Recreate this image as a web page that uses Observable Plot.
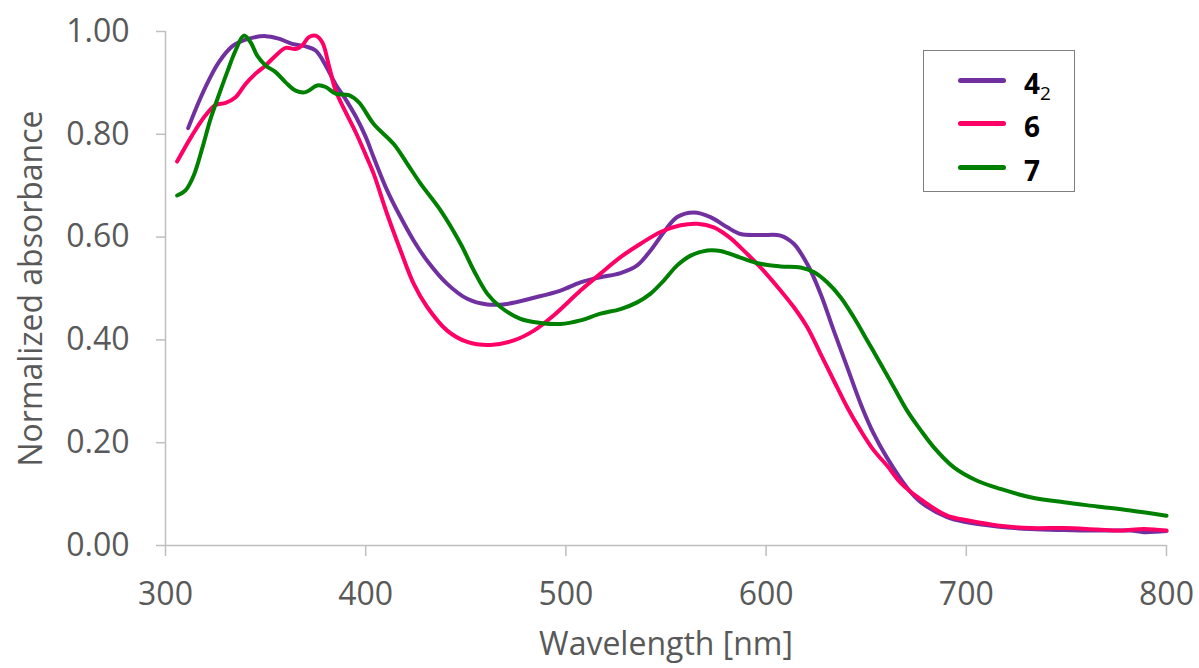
<!DOCTYPE html>
<html>
<head>
<meta charset="utf-8">
<script src="https://cdn.jsdelivr.net/npm/d3@7"></script>
<script src="https://cdn.jsdelivr.net/npm/@observablehq/plot@0.6"></script>
<style>
  html, body { margin: 0; padding: 0; background: #fff; }
  #wrap { position: relative; width: 1199px; height: 668px; font-family: "Open Sans", sans-serif; }
  #legend { position: absolute; left: 923px; top: 50px; width: 150px; height: 140px; border: 1.5px solid #7f7f7f; background: #fff; }
  .row { position: absolute; left: 0; height: 30px; display: flex; align-items: center; }
  .sw { width: 48px; height: 5px; border-radius: 3px; margin-left: 34px; }
  .lab { margin-left: 18px; font-weight: 700; font-size: 28px; color: #000; line-height: 30px; position: relative; top: 3px; }
  .lab sub { font-size: 19px; font-weight: 400; vertical-align: -6px; line-height: 0; }
</style>
</head>
<body>
<div id="wrap"></div>
<script>
// Normalized UV-vis absorbance spectra
const seriesNames = ["4_2", "6", "7"];
const seriesColors = ["#7030A0", "#FF0066", "#008000"];

// compound 4_2
const wl4 = [311.3, 316.5, 321.6, 326.6, 333.3, 340, 350, 356.6, 363.3, 370, 375, 380, 385, 390, 395, 400, 404, 410.7, 417.4, 424, 430.7, 440.7, 450.7, 460.7, 470.7, 484, 497.3, 507.3, 517.3, 527.3, 535.6, 542.3, 549, 555.6, 563.9, 572.2, 580.6, 587.2, 597.2, 607.2, 613.8, 620.5, 627.2, 633.8, 640.5, 647.2, 653.8, 660.5, 670.5, 677.1, 690.4, 700.4, 715.4, 732, 748.7, 765.3, 782, 788.7, 800];
const abs4 = [0.812, 0.862, 0.905, 0.940, 0.971, 0.984, 0.991, 0.986, 0.976, 0.971, 0.963, 0.934, 0.897, 0.868, 0.835, 0.795, 0.755, 0.691, 0.639, 0.593, 0.554, 0.509, 0.480, 0.469, 0.470, 0.482, 0.496, 0.512, 0.522, 0.530, 0.545, 0.574, 0.610, 0.639, 0.648, 0.639, 0.619, 0.606, 0.604, 0.603, 0.587, 0.548, 0.490, 0.418, 0.347, 0.276, 0.217, 0.170, 0.112, 0.085, 0.055, 0.045, 0.037, 0.032, 0.030, 0.029, 0.029, 0.026, 0.028];

// compound 6
const wl6 = [305.8, 313.3, 320, 325, 330, 335, 340, 345, 350, 355, 360, 365, 368.3, 371.6, 375, 378.3, 381.6, 385, 390, 395, 400, 404, 410.7, 417.4, 424, 430.7, 440.7, 450.7, 462.3, 474, 484, 494, 507.3, 517.3, 527.3, 537.3, 547.3, 557.3, 565.6, 573.9, 582.2, 587.2, 597.2, 607.2, 613.8, 620.5, 627.2, 633.8, 640.5, 647.2, 653.8, 660.5, 667, 677.1, 690.4, 700.4, 715.4, 732, 748.7, 765.3, 777, 788.7, 800];
const abs6 = [0.747, 0.798, 0.837, 0.857, 0.861, 0.872, 0.898, 0.918, 0.934, 0.953, 0.968, 0.966, 0.973, 0.989, 0.992, 0.979, 0.934, 0.885, 0.843, 0.804, 0.760, 0.723, 0.645, 0.574, 0.509, 0.464, 0.418, 0.396, 0.390, 0.399, 0.418, 0.448, 0.496, 0.529, 0.561, 0.587, 0.610, 0.623, 0.626, 0.619, 0.598, 0.580, 0.541, 0.496, 0.464, 0.425, 0.373, 0.321, 0.269, 0.224, 0.185, 0.155, 0.123, 0.090, 0.058, 0.049, 0.039, 0.034, 0.034, 0.031, 0.029, 0.032, 0.029];

// compound 7
const wl7 = [305.8, 310, 314.1, 318.3, 322.5, 326.6, 330.8, 335, 339.1, 342.5, 345.8, 350, 355, 360, 365, 370, 375.8, 380, 385, 391.6, 396.6, 404, 414, 420.7, 427.4, 437.4, 447.4, 454, 460.7, 467.3, 477.3, 487.3, 497.3, 507.3, 517.3, 527.3, 535.6, 542.3, 549, 555.6, 562.3, 570.6, 577.2, 587.2, 597.2, 607.2, 617.2, 623.8, 630.5, 637.2, 643.8, 650.5, 657.1, 663.8, 670.5, 677.1, 683.8, 693.8, 705.4, 717.1, 732, 748.7, 765.3, 782, 800];
const abs7 = [0.681, 0.691, 0.720, 0.772, 0.830, 0.876, 0.921, 0.963, 0.992, 0.979, 0.953, 0.934, 0.921, 0.901, 0.885, 0.882, 0.895, 0.892, 0.879, 0.876, 0.862, 0.820, 0.781, 0.743, 0.704, 0.652, 0.587, 0.535, 0.490, 0.464, 0.441, 0.433, 0.431, 0.438, 0.451, 0.460, 0.473, 0.490, 0.516, 0.545, 0.564, 0.574, 0.573, 0.560, 0.548, 0.543, 0.541, 0.532, 0.512, 0.483, 0.444, 0.399, 0.354, 0.308, 0.262, 0.225, 0.191, 0.152, 0.126, 0.110, 0.094, 0.084, 0.076, 0.068, 0.058];

const xTicks = [300, 400, 500, 600, 700, 800];
const yTicks = [0, 0.2, 0.4, 0.6, 0.8, 1.0];
const xTitle = "Wavelength [nm]";
const yTitle = "Normalized absorbance";

const spectra = [
  ...wl4.map((w, i) => ({series: "4_2", wavelength: w, absorbance: abs4[i]})),
  ...wl6.map((w, i) => ({series: "6", wavelength: w, absorbance: abs6[i]})),
  ...wl7.map((w, i) => ({series: "7", wavelength: w, absorbance: abs7[i]}))
];

const axisGray = "#BFBFBF";
const textGray = "#595959";

const chart = Plot.plot({
  width: 1199,
  height: 668,
  marginTop: 31,
  marginRight: 33,
  marginBottom: 123,
  marginLeft: 165,
  style: {fontFamily: "'Open Sans', sans-serif", fontSize: "32px", background: "white", color: textGray},
  x: {domain: [300, 800]},
  y: {domain: [0, 1]},
  color: {domain: seriesNames, range: seriesColors},
  marks: [
    Plot.ruleX([300], {stroke: axisGray, strokeWidth: 1.5}),
    Plot.ruleY([0], {stroke: axisGray, strokeWidth: 1.5}),
    Plot.axisY(yTicks, {tickSize: 9, tickPadding: 27, tickFormat: d => d.toFixed(2), label: null, stroke: axisGray, strokeWidth: 1.5, fill: textGray}),
    Plot.axisX(xTicks, {tickSize: 11, tickPadding: 26, label: null, stroke: axisGray, strokeWidth: 1.5, fill: textGray}),
    Plot.line(spectra, {x: "wavelength", y: "absorbance", z: "series", stroke: "series", strokeWidth: 4, curve: "catmull-rom"}),
    Plot.text([yTitle], {frameAnchor: "left", textAnchor: "middle", lineAnchor: "middle", dx: -134, rotate: -90, text: d => d, fill: textGray}),
    Plot.text([xTitle], {frameAnchor: "bottom", textAnchor: "middle", lineAnchor: "middle", dy: 99, text: d => d, fill: textGray})
  ]
});

const wrap = document.getElementById("wrap");
wrap.appendChild(chart);

// legend box
const legend = document.createElement("div");
legend.id = "legend";
const rowTops = [14, 57, 101];
seriesNames.forEach((name, i) => {
  const row = document.createElement("div");
  row.className = "row";
  row.style.top = rowTops[i] + "px";
  const sw = document.createElement("div");
  sw.className = "sw";
  sw.style.background = seriesColors[i];
  const lab = document.createElement("span");
  lab.className = "lab";
  const [base, sub] = name.split("_");
  lab.textContent = base;
  if (sub) {
    const s = document.createElement("sub");
    s.textContent = sub;
    lab.appendChild(s);
  }
  row.appendChild(sw);
  row.appendChild(lab);
  legend.appendChild(row);
});
wrap.appendChild(legend);
</script>
</body>
</html>
